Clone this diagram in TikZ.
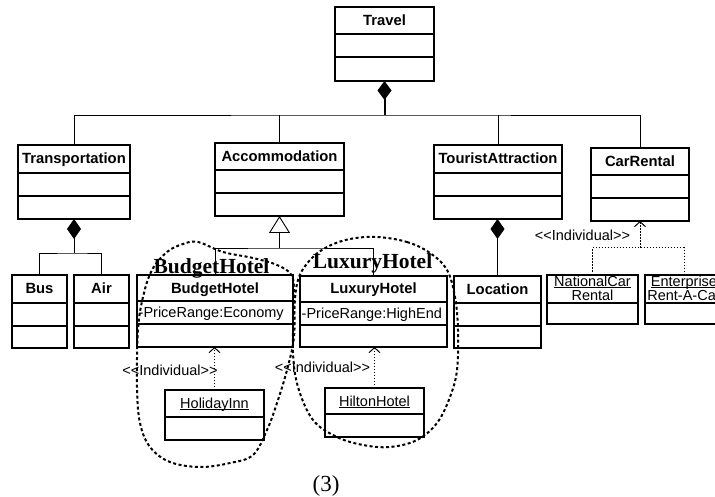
\documentclass[tikz,border=0pt]{standalone}
\usepackage{fontspec}
\setmainfont{Liberation Sans}
\newfontfamily\bigserif{Liberation Serif}
\usetikzlibrary{arrows.meta}
\newcommand{\ulin}[1]{\setbox0=\hbox{#1}\rlap{\rule[-1.8pt]{\wd0}{0.8pt}}\box0}
\newcommand{\classthree}[8]{%
  \node[umlbox, minimum width={(#4)-(#2)}, minimum height={(#5)-(#3)}, anchor=north west] (#1) at (#2,#3) {};
  \draw[umlline] (#2,#6) -- (#4,#6);
  \draw[umlline] (#2,#7) -- (#4,#7);
  \node[cname] (#1-n) at ({((#2)+(#4))/2},{((#3)+(#6))/2+5}) {#8};
}
\newcommand{\classtwo}[6]{%
  \node[umlbox, minimum width={(#4)-(#2)}, minimum height={(#5)-(#3)}, anchor=north west] (#1) at (#2,#3) {};
  \draw[umlline] (#2,#6) -- (#4,#6);
}
\begin{document}
\begin{tikzpicture}[x=1pt,y=-1pt,
  umlbox/.style={draw, line width=1.3pt, rectangle, outer sep=0pt, inner sep=0pt},
  umlline/.style={line width=1.3pt},
  cname/.style={font=\fontsize{14.8}{16}\selectfont\bfseries, anchor=base, inner sep=0pt},
  plain/.style={font=\fontsize{14.5}{16}\selectfont, anchor=base, inner sep=0pt},
  conn/.style={line width=0.9pt},
  realline/.style={line width=1pt, dash pattern=on 1.5pt off 1.5pt},
  real/.style={realline, -{Straight Barb[length=5pt,width=11pt]}},
  blob/.style={line width=2pt, dash pattern=on 3pt off 2.5pt},
  bigl/.style={font=\bigserif\bfseries\fontsize{21.5}{24}\selectfont, anchor=base, inner sep=0pt}
]
\useasboundingbox (0,0) rectangle (715,497);
\fill[white] (0,0) rectangle (715,497);
\clip (0,0) rectangle (715,497);

% classes
\classthree{travel}{335}{7}{434}{81}{34}{57}{Travel}
\classthree{transp}{18}{145}{130}{219}{173}{196}{Transportation}
\classthree{accom}{215}{143}{344}{216}{170}{193}{Accommodation}
\classthree{tourist}{434}{145}{562}{219}{173}{196}{TouristAttraction}
\classthree{carrental}{591}{148}{689}{221}{175}{198}{CarRental}
\classthree{bus}{12}{275}{67}{348}{303}{326}{Bus}
\classthree{air}{74}{275}{129}{348}{303}{326}{Air}
\classthree{budget}{137}{275}{293}{347}{301}{324}{BudgetHotel}
\classthree{luxury}{300}{276}{447}{347}{302}{325}{LuxuryHotel}
\classthree{location}{454}{276}{541}{348}{303}{326}{Location}

\node[plain, anchor=base west] (budget-a) at (138.5,317) {-PriceRange:Economy};
\node[plain, anchor=base west] (luxury-a) at (301.5,318) {-PriceRange:HighEnd};

% instances
\classtwo{holiday}{165}{390}{264}{440}{417}
\node[plain] (holiday-n) at (214.5,408) {\ulin{HolidayInn}};
\classtwo{hilton}{325}{388}{424}{437}{414}
\node[plain] (hilton-n) at (374.5,406) {\ulin{HiltonHotel}};
\classtwo{national}{547}{275}{638}{324}{303}
\node[plain] (national-n1) at (592.5,286) {\ulin{NationalCar}};
\node[plain] (national-n2) at (592.5,300.5) {\ulin{Rental}};
\classtwo{enterprise}{645}{275}{723}{324}{303}
\node[plain] (enterprise-n1) at (684,286) {\ulin{Enterprise}};
\node[plain] (enterprise-n2) at (684,300.5) {\ulin{Rent-A-Car}};

% Travel composition
\coordinate (j1) at (384.5,115);
\draw[conn, line width=2pt, -{Diamond[length=19pt,width=14pt]}] (j1) -- (travel.south);
\draw[conn] (transp.north) |- (j1) -| (carrental.north);
\draw[conn] (accom.north) -- (accom.north |- j1);
\draw[conn] (tourist.north) -- (tourist.north |- j1);

% Transportation composition
\coordinate (j2) at (74,253);
\draw[conn, -{Diamond[length=20pt,width=14pt]}] (j2) -- (transp.south);
\draw[conn] (bus.north) |- (j2) -| (air.north);

% Generalization
\coordinate (j3) at (279.5,248);
\draw[conn, -{Triangle[open,length=17pt,width=21pt]}] (j3) -- (accom.south);
\draw[conn] (budget.north) |- (j3) -| (luxury.north);

% Tourist composition
\draw[conn, -{Diamond[length=20pt,width=14pt]}] (location.north) -- (location.north |- tourist.south);

% realizations
\draw[real] (holiday.north) -- (holiday.north |- budget.south);
\draw[real] (hilton.north) -- (hilton.north |- luxury.south);
\coordinate (j4) at (640,248);
\draw[realline] (national.north) |- (j4) -| (enterprise.north);
\draw[real] (j4) -- (carrental.south);

\node[plain] (ind1) at (170,375) {<\kern0pt<Individual>\kern0pt>};
\node[plain] (ind2) at (322.5,372) {<\kern0pt<Individual>\kern0pt>};
\node[plain] (ind3) at (582.5,241) {<\kern0pt<Individual>\kern0pt>};

% blobs
\draw[blob] plot[smooth cycle, tension=0.6] coordinates {
  (198,242) (223,252) (253,258) (277,265) (292,276) (294,300) (294,337) (287,370)
  (277,403) (267,430) (253,455) (230,463) (200,467) (170,462) (150,447)
  (140,423) (137,387) (138,330) (143,297) (152,270) (167,252) (183,244)};
\draw[blob] plot[smooth cycle, tension=0.6] coordinates {
  (377,237) (407,242) (430,253) (447,270) (455,297) (458,330) (457,370) (450,397)
  (437,423) (417,440) (390,447) (363,445) (337,437) (313,420) (298,387)
  (293,353) (294,313) (298,280) (310,260) (327,247) (350,239)};

\node[bigl] (bhl) at (211.5,273) {BudgetHotel};
\node[bigl] (lhl) at (372.5,269) {LuxuryHotel};

\node[font=\bigserif\fontsize{23}{26}\selectfont, anchor=base, inner sep=0pt] (cap) at (326,491) {(3)};
\end{tikzpicture}
\end{document}
